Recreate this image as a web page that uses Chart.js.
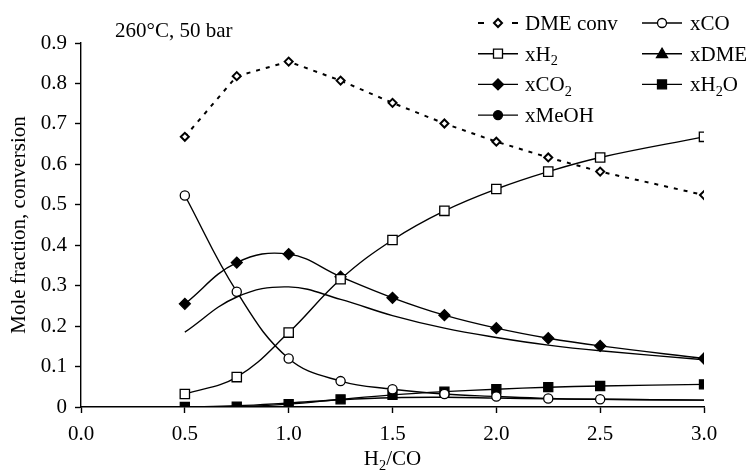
<!DOCTYPE html>
<html>
<head>
<meta charset="utf-8">
<script src="https://cdn.jsdelivr.net/npm/chart.js@4/dist/chart.umd.min.js"></script>
<style>
  body { margin: 0; background: #fff; }
  canvas { display: block; }
</style>
</head>
<body>
<canvas id="chart" width="752" height="472"></canvas>
<script>
// H2/CO ratios where the model was evaluated
const ratios = [0.5, 0.75, 1.0, 1.25, 1.5, 1.75, 2.0, 2.25, 2.5, 3.0];

const dmeConv = [0.668, 0.818, 0.854, 0.807, 0.752, 0.701, 0.656, 0.617, 0.582, 0.524];
const xH2     = [0.032, 0.074, 0.184, 0.316, 0.413, 0.485, 0.539, 0.582, 0.617, 0.668];
const xCO2    = [0.255, 0.357, 0.378, 0.322, 0.270, 0.227, 0.195, 0.170, 0.151, 0.120];
const xMeOH   = [0.185, 0.272, 0.297, 0.266, 0.226, 0.195, 0.172, 0.153, 0.139, 0.117];
const xCO     = [0.523, 0.285, 0.120, 0.064, 0.044, 0.032, 0.026, 0.021, 0.019, 0.017];
const xDME    = [0.000, 0.003, 0.010, 0.018, 0.023, 0.024, 0.022, 0.020, 0.019, 0.017];
const xH2O    = [0.000, 0.001, 0.007, 0.019, 0.030, 0.038, 0.044, 0.049, 0.052, 0.056];

const seriesNames = ['DME conv', 'xH_2', 'xCO_2', 'xMeOH', 'xCO', 'xDME', 'xH_2O'];
const conditionLabel = '260°C, 50 bar';
const xTitle = 'H_2/CO';
const yTitle = 'Mole fraction, conversion';

const FONT = "'Liberation Serif', 'DejaVu Serif', serif";
const FS = 21;

function pts(ys) {
  return ys.map((y, i) => ({ x: ratios[i], y: y }));
}

// draw text with "_2" style subscripts
function drawRich(ctx, text, x, y, size, align) {
  const parts = text.split(/_(\d)/);
  let total = 0;
  parts.forEach((p, i) => {
    ctx.font = (i % 2 ? size * 0.68 : size) + 'px ' + FONT;
    total += ctx.measureText(p).width;
  });
  let cx = align === 'center' ? x - total / 2 : x;
  ctx.textAlign = 'left';
  ctx.textBaseline = 'alphabetic';
  parts.forEach((p, i) => {
    const sub = i % 2 === 1;
    ctx.font = (sub ? size * 0.68 : size) + 'px ' + FONT;
    ctx.fillText(p, cx, sub ? y + size * 0.22 : y);
    cx += ctx.measureText(p).width;
  });
}

function marker(ctx, style, x, y, filled) {
  ctx.beginPath();
  if (style === 'circle') {
    ctx.arc(x, y, 4.5, 0, Math.PI * 2);
  } else if (style === 'rect') {
    ctx.rect(x - 4.5, y - 4.5, 9, 9);
  } else if (style === 'rectRot') {
    ctx.moveTo(x - 5.5, y); ctx.lineTo(x, y - 5.5); ctx.lineTo(x + 5.5, y); ctx.lineTo(x, y + 5.5);
    ctx.closePath();
  } else if (style === 'smallRot') {
    ctx.moveTo(x - 4, y); ctx.lineTo(x, y - 4); ctx.lineTo(x + 4, y); ctx.lineTo(x, y + 4);
    ctx.closePath();
  } else if (style === 'triangle') {
    ctx.moveTo(x, y - 5.5); ctx.lineTo(x + 5.5, y + 4); ctx.lineTo(x - 5.5, y + 4);
    ctx.closePath();
  }
  ctx.fillStyle = filled ? '#000' : '#fff';
  ctx.fill();
  ctx.stroke();
}

const legendMarks = [
  { style: 'smallRot', filled: false, dashed: true },
  { style: 'rect', filled: false },
  { style: 'rectRot', filled: true },
  { style: 'circle', filled: true },
  { style: 'circle', filled: false },
  { style: 'triangle', filled: true },
  { style: 'rect', filled: true }
];

const overlay = {
  id: 'overlay',
  afterDraw(chart) {
    const ctx = chart.ctx;
    ctx.save();
    ctx.fillStyle = '#000';
    ctx.strokeStyle = '#000';
    drawRich(ctx, conditionLabel, 115, 37, FS, 'left');
    const a = chart.chartArea;
    drawRich(ctx, xTitle, (a.left + a.right) / 2, 465, FS, 'center');

    seriesNames.forEach((name, i) => {
      const col = i < 4 ? 0 : 1;
      const row = i < 4 ? i : i - 4;
      const cx = col ? 662 : 498;
      const y = 23 + row * 30.7;
      const m = legendMarks[i];
      ctx.lineWidth = 1.4;
      ctx.strokeStyle = '#000';
      ctx.beginPath();
      if (m.dashed) {
        ctx.lineWidth = 2;
        ctx.moveTo(cx - 20, y); ctx.lineTo(cx - 14, y);
        ctx.moveTo(cx + 14, y); ctx.lineTo(cx + 20, y);
      } else {
        ctx.moveTo(cx - 20, y); ctx.lineTo(cx + 20, y);
      }
      ctx.stroke();
      ctx.lineWidth = m.dashed ? 2 : 1.3;
      marker(ctx, m.style, cx, y, m.filled);
      ctx.fillStyle = '#000';
      drawRich(ctx, name, col ? 690 : 525, y + 7, FS, 'left');
    });
    ctx.restore();
  }
};

const smooth = { borderColor: '#000', borderWidth: 1.4, tension: 0.4, pointBorderColor: '#000', pointBorderWidth: 1.3 };

new Chart(document.getElementById('chart'), {
  type: 'line',
  data: {
    datasets: [
      { label: seriesNames[0], data: pts(dmeConv), borderColor: '#000', borderWidth: 2, borderDash: [4, 6],
        tension: 0, pointStyle: 'rectRot', pointRadius: 4, pointBackgroundColor: '#fff',
        pointBorderColor: '#000', pointBorderWidth: 2 },
      Object.assign({ label: seriesNames[1], data: pts(xH2), pointStyle: 'rect', pointRadius: 6.6,
        pointBackgroundColor: '#fff' }, smooth),
      Object.assign({ label: seriesNames[2], data: pts(xCO2), pointStyle: 'rectRot', pointRadius: 5.5,
        pointBackgroundColor: '#000' }, smooth),
      Object.assign({ label: seriesNames[3], data: pts(xMeOH), pointRadius: 0 }, smooth),
      Object.assign({ label: seriesNames[4], data: pts(xCO), pointStyle: 'circle',
        pointRadius: ratios.map(r => r < 3 ? 4.6 : 0), pointBackgroundColor: '#fff' }, smooth),
      Object.assign({ label: seriesNames[5], data: pts(xDME), pointRadius: 0 }, smooth),
      Object.assign({ label: seriesNames[6], data: pts(xH2O), pointStyle: 'rect', pointRadius: 6.4,
        pointBackgroundColor: '#000' }, smooth)
    ]
  },
  options: {
    responsive: false,
    animation: false,
    layout: { padding: { top: 43, right: 48, left: 0, bottom: 0 } },
    plugins: { legend: { display: false }, tooltip: { enabled: false } },
    scales: {
      x: {
        type: 'linear', min: 0, max: 3,
        afterFit: s => { s.height = 65; },
        border: { display: true, color: '#000', width: 1.4 },
        grid: { drawOnChartArea: false, drawTicks: true, tickLength: 6, tickColor: '#000', tickWidth: 1.4 },
        ticks: { stepSize: 0.5, color: '#000', padding: 9, font: { family: FONT, size: FS },
          callback: v => v.toFixed(1) }
      },
      y: {
        min: 0, max: 0.9,
        afterFit: s => { s.width = 81; },
        border: { display: true, color: '#000', width: 1.4 },
        grid: { drawOnChartArea: false, drawTicks: true, tickLength: 6, tickColor: '#000', tickWidth: 1.4 },
        ticks: { stepSize: 0.1, color: '#000', padding: 8, font: { family: FONT, size: FS },
          callback: v => Math.abs(v) < 1e-9 ? '0' : v.toFixed(1) },
        title: { display: true, text: yTitle, color: '#000', padding: { top: 7, bottom: 0 },
          font: { family: FONT, size: FS } }
      }
    }
  },
  plugins: [overlay]
});
</script>
</body>
</html>
